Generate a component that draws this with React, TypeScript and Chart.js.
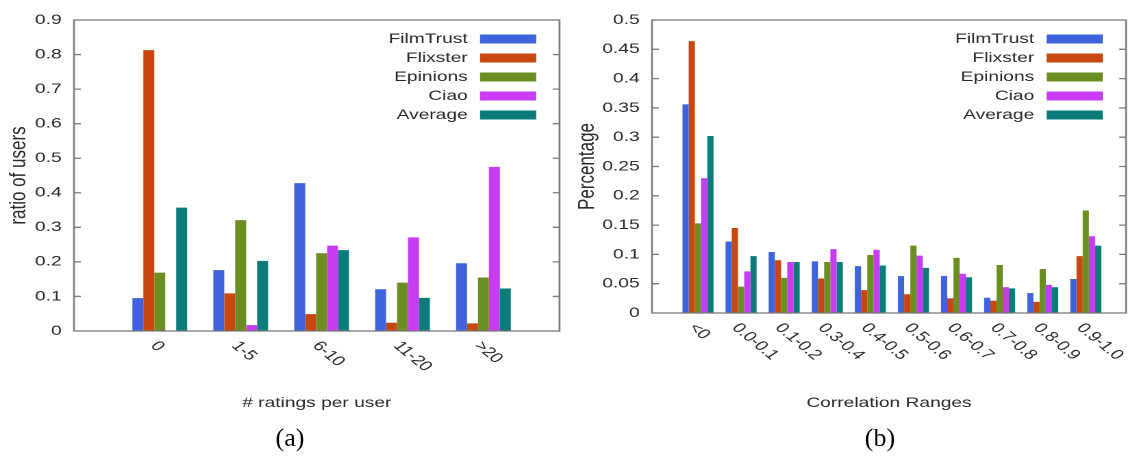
import React, { useEffect, useRef } from 'react';
import { Chart, registerables } from 'chart.js';

Chart.register(...registerables);

// ---------- data ----------
const seriesNames = ['FilmTrust', 'Flixster', 'Epinions', 'Ciao', 'Average'];
const seriesColors = ['#3e63dc', '#c8470e', '#6b8e23', '#c73cf2', '#0b7c7a'];

const ratingCategories = ['0', '1-5', '6-10', '11-20', '>20'];
const ratingFilmTrust = [0.095, 0.176, 0.428, 0.121, 0.196];
const ratingFlixster = [0.813, 0.109, 0.049, 0.024, 0.022];
const ratingEpinions = [0.169, 0.321, 0.225, 0.14, 0.155];
const ratingCiao = [0, 0.017, 0.247, 0.271, 0.475];
const ratingAverage = [0.357, 0.203, 0.234, 0.096, 0.123];
const ratingYTicks = ['0', '0.1', '0.2', '0.3', '0.4', '0.5', '0.6', '0.7', '0.8', '0.9'];

const corrCategories = ['<0', '0.0-0.1', '0.1-0.2', '0.3-0.4', '0.4-0.5', '0.5-0.6', '0.6-0.7', '0.7-0.8', '0.8-0.9', '0.9-1.0'];
const corrFilmTrust = [0.356, 0.122, 0.104, 0.088, 0.08, 0.063, 0.063, 0.026, 0.034, 0.058];
const corrFlixster = [0.464, 0.145, 0.09, 0.059, 0.039, 0.032, 0.025, 0.021, 0.019, 0.097];
const corrEpinions = [0.153, 0.045, 0.06, 0.087, 0.099, 0.115, 0.094, 0.082, 0.075, 0.175];
const corrCiao = [0.23, 0.071, 0.087, 0.109, 0.108, 0.098, 0.067, 0.044, 0.048, 0.131];
const corrAverage = [0.302, 0.097, 0.087, 0.087, 0.081, 0.077, 0.061, 0.042, 0.044, 0.115];
const corrYTicks = ['0', '0.05', '0.1', '0.15', '0.2', '0.25', '0.3', '0.35', '0.4', '0.45', '0.5'];

// ---------- styling ----------
const STRETCH = 1.37;
const FONT = '"Liberation Sans", Arial, sans-serif';
const TEXT = '#2a2a2a';

const framePlugin = {
  id: 'frame',
  afterDraw(chart: any, _args: any, opts: any) {
    const { ctx, chartArea: a, scales } = chart;
    ctx.save();
    // border box
    ctx.strokeStyle = '#7a7a7a';
    ctx.lineWidth = 1.3;
    ctx.strokeRect(a.left, a.top, a.right - a.left, a.bottom - a.top);
    // inward y tick marks, mirrored
    const y = scales.y;
    y.ticks.forEach((t: any) => {
      const py = y.getPixelForValue(t.value);
      if (py > a.top + 1 && py < a.bottom - 1) {
        ctx.beginPath();
        ctx.moveTo(a.left, py);
        ctx.lineTo(a.left + 5, py);
        ctx.moveTo(a.right, py);
        ctx.lineTo(a.right - 5, py);
        ctx.stroke();
      }
    });
    // rotated category labels
    const x = scales.x;
    ctx.font = '14px ' + FONT;
    ctx.fillStyle = TEXT;
    (opts.labels || []).forEach((lab: string, i: number) => {
      const px = x.getPixelForValue(i) - 4.4;
      const py = a.bottom + 12.5;
      ctx.save();
      ctx.translate(px, py);
      ctx.rotate((48 * Math.PI) / 180);
      ctx.textAlign = 'left';
      ctx.textBaseline = 'middle';
      ctx.fillText(lab, 0, 0);
      ctx.restore();
    });
    // legend: text right-aligned, swatch on the right
    chart.data.datasets.forEach((ds: any, i: number) => {
      const rowY = a.top + 19 + i * 19;
      ctx.fillStyle = TEXT;
      ctx.textAlign = 'right';
      ctx.textBaseline = 'middle';
      ctx.fillText(ds.label, a.right - 67, rowY);
      ctx.fillStyle = ds.backgroundColor;
      ctx.fillRect(a.right - 58, rowY - 4.5, 41, 9);
    });
    ctx.restore();
  },
};

type Spec = {
  categories: string[];
  series: number[][];
  yTicks: string[];
  xTitle: string;
  yTitle: string;
  xMin: number;
  xMax: number;
  yAxisWidth: number;
  xAxisHeight: number;
  padRight: number;
  yTitlePad: number;
};

function Panel({ spec, left, innerWidth }: { spec: Spec; left: number; innerWidth: number }) {
  const ref = useRef<HTMLCanvasElement | null>(null);
  useEffect(() => {
    if (!ref.current) return;
    const yVals = spec.yTicks.map((t) => parseFloat(t));
    const chart = new Chart(ref.current, {
      type: 'bar',
      data: {
        datasets: spec.series.map((vals, j) => ({
          label: seriesNames[j],
          data: vals.map((v, i) => ({ x: i, y: v })),
          backgroundColor: seriesColors[j],
          borderWidth: 0,
          categoryPercentage: 0.72,
          barPercentage: 1,
        })),
      },
      options: {
        responsive: false,
        animation: false,
        devicePixelRatio: 2,
        layout: { padding: { left: 0, top: 20, right: spec.padRight, bottom: 0 } },
        plugins: {
          legend: { display: false },
          tooltip: { enabled: false },
          frame: { labels: spec.categories },
        } as any,
        scales: {
          x: {
            type: 'linear',
            min: spec.xMin,
            max: spec.xMax,
            offset: false,
            grid: { display: false, drawTicks: false },
            border: { display: false },
            ticks: { display: false },
            title: {
              display: true,
              text: spec.xTitle,
              color: TEXT,
              font: { family: FONT, size: 14 },
              padding: { top: 0, bottom: 47.6 },
            },
            afterFit: (s: any) => {
              s.height = spec.xAxisHeight;
            },
          },
          y: {
            type: 'linear',
            min: 0,
            max: yVals[yVals.length - 1],
            grid: { display: false, drawTicks: false },
            border: { display: false },
            afterBuildTicks: (s: any) => {
              s.ticks = yVals.map((v) => ({ value: v }));
            },
            ticks: {
              padding: 9,
              color: TEXT,
              font: { family: FONT, size: 14 },
              callback: (_v: any, i: number) => spec.yTicks[i],
            },
            title: {
              display: true,
              text: spec.yTitle,
              color: TEXT,
              font: { family: FONT, size: 17 },
              padding: { top: spec.yTitlePad, bottom: 0 },
            },
            afterFit: (s: any) => {
              s.width = spec.yAxisWidth;
            },
          },
        },
      } as any,
      plugins: [framePlugin],
    });
    return () => chart.destroy();
  }, []);
  return (
    <div
      style={{
        position: 'absolute',
        left,
        top: 0,
        width: innerWidth,
        height: 459,
        transform: `scaleX(${STRETCH})`,
        transformOrigin: '0 0',
      }}
    >
      <canvas ref={ref} width={innerWidth} height={459} />
    </div>
  );
}

const ratingSpec: Spec = {
  categories: ratingCategories,
  series: [ratingFilmTrust, ratingFlixster, ratingEpinions, ratingCiao, ratingAverage],
  yTicks: ratingYTicks,
  xTitle: '# ratings per user',
  yTitle: 'ratio of users',
  xMin: -1.06,
  xMax: 4.94,
  yAxisWidth: 54,
  xAxisHeight: 128,
  padRight: 3.6,
  yTitlePad: 3.7,
};

const corrSpec: Spec = {
  categories: corrCategories,
  series: [corrFilmTrust, corrFlixster, corrEpinions, corrCiao, corrAverage],
  yTicks: corrYTicks,
  xTitle: 'Correlation Ranges',
  yTitle: 'Percentage',
  xMin: -1.067,
  xMax: 9.933,
  yAxisWidth: 63.5,
  xAxisHeight: 146,
  padRight: 2.5,
  yTitlePad: 5.9,
};

export default function App() {
  return (
    <div
      style={{
        position: 'absolute',
        left: 0,
        top: 0,
        width: 1129,
        height: 459,
        overflow: 'hidden',
        background: '#ffffff',
      }}
    >
      <Panel spec={ratingSpec} left={0} innerWidth={412} />
      <Panel spec={corrSpec} left={565} innerWidth={412} />
      <div
        style={{
          position: 'absolute',
          left: 290,
          top: 438,
          transform: 'translate(-50%, -50%)',
          fontFamily: '"Liberation Serif", "Times New Roman", serif',
          fontSize: 26,
          color: '#000',
        }}
      >
        (a)
      </div>
      <div
        style={{
          position: 'absolute',
          left: 880,
          top: 438,
          transform: 'translate(-50%, -50%)',
          fontFamily: '"Liberation Serif", "Times New Roman", serif',
          fontSize: 26,
          color: '#000',
        }}
      >
        (b)
      </div>
    </div>
  );
}
